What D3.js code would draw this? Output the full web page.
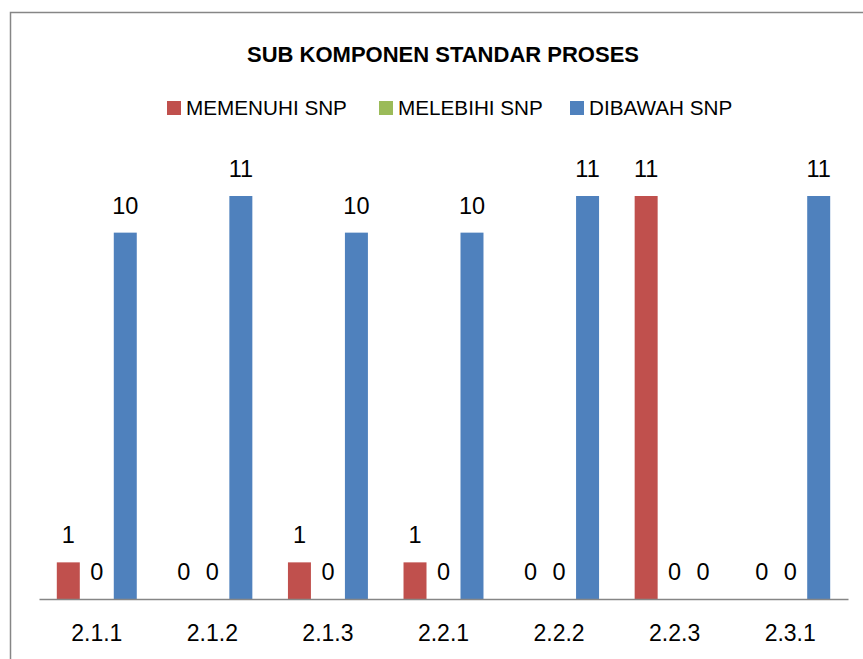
<!DOCTYPE html>
<html>
<head>
<meta charset="utf-8">
<script src="https://cdn.jsdelivr.net/npm/d3@7"></script>
<style>
  body { margin: 0; background: #fff; }
  text { font-family: "Liberation Sans", Arial, sans-serif; fill: #000; }
</style>
</head>
<body>
<svg width="863" height="659"></svg>
<script>
// --- Data ---
const categories = ['2.1.1', '2.1.2', '2.1.3', '2.2.1', '2.2.2', '2.2.3', '2.3.1'];
const seriesNames = ['MEMENUHI SNP', 'MELEBIHI SNP', 'DIBAWAH SNP'];
const memenuhi = [1, 0, 1, 1, 0, 11, 0];
const melebihi = [0, 0, 0, 0, 0, 0, 0];
const dibawah = [10, 11, 10, 10, 11, 0, 11];
const colors = ['#C0504D', '#9BBB59', '#4F81BD'];

const svg = d3.select('svg');

// --- Border ---
svg.append('rect')
  .attr('x', 10.5).attr('y', 12.5)
  .attr('width', 900).attr('height', 700)
  .attr('fill', 'none')
  .attr('stroke', '#868686')
  .attr('stroke-width', 1.5);

// --- Title ---
svg.append('text')
  .attr('x', 443).attr('y', 62)
  .attr('text-anchor', 'middle')
  .style('font-size', '22px')
  .style('font-weight', 'bold')
  .text('SUB KOMPONEN STANDAR PROSES');

// --- Legend ---
const legendX = [167, 379, 570];
const legend = svg.append('g');
seriesNames.forEach((name, i) => {
  legend.append('rect')
    .attr('x', legendX[i]).attr('y', 101)
    .attr('width', 14).attr('height', 14)
    .attr('fill', colors[i]);
  legend.append('text')
    .attr('x', legendX[i] + 19).attr('y', 115)
    .style('font-size', '20.7px')
    .text(name);
});

// --- Scales ---
const x0 = d3.scaleBand()
  .domain(categories)
  .range([39, 848]);

const x1 = d3.scaleBand()
  .domain(d3.range(seriesNames.length))
  .range([17.8, x0.bandwidth() - 17.8])
  .paddingInner(0.193);

const y = d3.scaleLinear()
  .domain([0, 11])
  .range([599, 196]);

const series = [memenuhi, melebihi, dibawah];

// --- Bars ---
const groups = svg.append('g')
  .selectAll('g')
  .data(categories)
  .join('g')
  .attr('transform', d => `translate(${x0(d)},0)`);

groups.selectAll('rect')
  .data((c, ci) => series.map((s, si) => ({ si, v: s[ci] })))
  .join('rect')
  .attr('x', d => x1(d.si))
  .attr('y', d => y(d.v))
  .attr('width', x1.bandwidth())
  .attr('height', d => y(0) - y(d.v))
  .attr('fill', d => colors[d.si]);

// --- Data labels ---
groups.selectAll('text')
  .data((c, ci) => series.map((s, si) => ({ si, v: s[ci] })))
  .join('text')
  .attr('x', d => x1(d.si) + x1.bandwidth() / 2)
  .attr('y', d => y(d.v) - 19)
  .attr('text-anchor', 'middle')
  .style('font-size', '23.5px')
  .text(d => d.v);

// --- Axis ---
const axis = svg.append('g')
  .attr('transform', `translate(0,${y(0)})`)
  .call(d3.axisBottom(x0).tickSize(0).tickPadding(25.5));
axis.select('.domain').attr('stroke', '#868686').attr('stroke-width', 1.5);
axis.selectAll('text')
  .style('font-size', '23px')
  .style('font-family', '"Liberation Sans", Arial, sans-serif');
</script>
</body>
</html>
